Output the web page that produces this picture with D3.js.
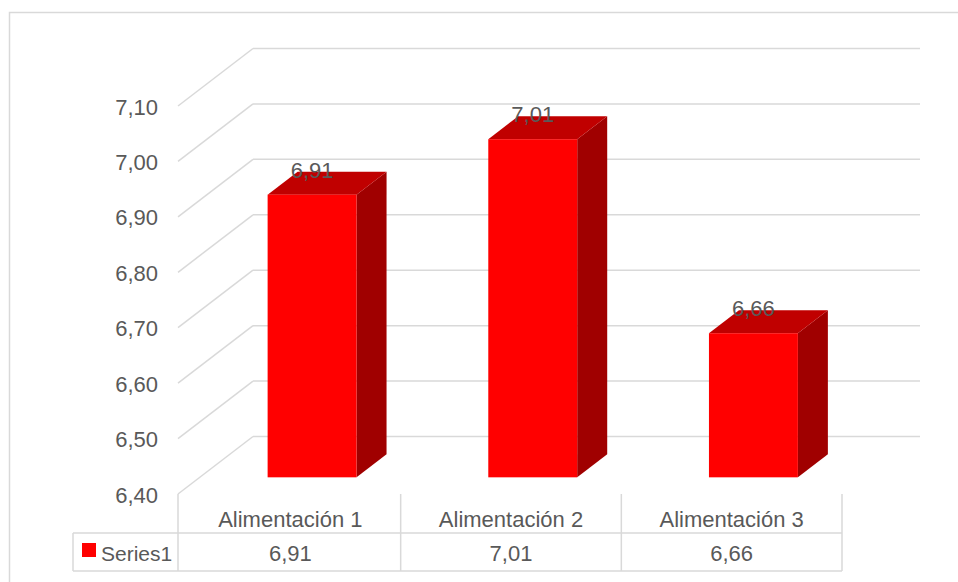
<!DOCTYPE html>
<html>
<head>
<meta charset="utf-8">
<script src="https://cdn.jsdelivr.net/npm/d3@7/dist/d3.min.js"></script>
<style>
  html, body { margin: 0; padding: 0; background: #fff; }
  svg { display: block; }
  text { font-family: "Liberation Sans", Arial, sans-serif; fill: #595959; }
</style>
</head>
<body>
<svg id="chart" width="958" height="582"></svg>
<script>
// ---- data ----
const categories = ["Alimentación 1", "Alimentación 2", "Alimentación 3"];
const seriesName = "Series1";
const values = [6.91, 7.01, 6.66];
const yTicks = [6.4, 6.5, 6.6, 6.7, 6.8, 6.9, 7.0, 7.1];

// ---- layout ----
const W = 958, H = 582;
const svg = d3.select("#chart");
const locale = d3.formatLocale({decimal: ",", thousands: ".", grouping: [3], currency: ["", "€"]});
const fmt = locale.format(".2f");

const frontLeft = 178, frontRight = 842;
const yFront = d3.scaleLinear().domain([6.4, 7.1]).range([494, 106]);
const depth = {dx: 75, dy: -57.5};
const barFront = 0.29, barBack = 0.69;
const x = d3.scaleBand().domain(categories).range([frontLeft + 2, frontRight]).padding(0);
const barW = x.bandwidth() * 0.403;

const grid = "#d9d9d9";
const fs = 22;

// outer border
svg.append("rect").attr("x", 9.5).attr("y", 12.5).attr("width", 980).attr("height", 620)
  .attr("fill", "none").attr("stroke", grid).attr("stroke-width", 1.5);

// gridlines: back wall + left wall diagonals
const gG = svg.append("g");
yTicks.forEach(t => {
  const yf = yFront(t), yb = yFront(t) + depth.dy;
  gG.append("line").attr("x1", frontLeft).attr("y1", yf).attr("x2", frontLeft + depth.dx).attr("y2", yb)
    .attr("stroke", grid).attr("stroke-width", 1.5);
  gG.append("line").attr("x1", frontLeft + depth.dx).attr("y1", yb).attr("x2", frontRight + depth.dx + 3).attr("y2", yb)
    .attr("stroke", grid).attr("stroke-width", 1.5);
});

// y axis labels
const axis = d3.axisLeft(yFront).tickValues(yTicks).tickFormat(fmt).tickSize(0).tickPadding(0);
const ax = svg.append("g").attr("transform", "translate(158,1)").call(axis);
ax.select(".domain").remove();
ax.selectAll("text").style("font-size", fs + "px").attr("fill", "#595959")
  .style("font-family", '"Liberation Sans", Arial, sans-serif');

// bars
const bars = svg.append("g");
const fdx = depth.dx * barFront, fdy = depth.dy * barFront;
const ddx = depth.dx * (barBack - barFront), ddy = depth.dy * (barBack - barFront);
categories.forEach((c, i) => {
  const v = values[i];
  const x0 = x(c) + (x.bandwidth() - barW) / 2 + fdx;
  const x1 = x0 + barW;
  const yT = yFront(v) + fdy;
  const yB = yFront(6.4) + fdy;
  // side
  bars.append("polygon").attr("points", [[x1, yT], [x1 + ddx, yT + ddy], [x1 + ddx, yB + ddy], [x1, yB]].map(p => p.join(",")).join(" "))
    .attr("fill", "#A00000");
  // top
  bars.append("polygon").attr("points", [[x0, yT], [x0 + ddx, yT + ddy], [x1 + ddx, yT + ddy], [x1, yT]].map(p => p.join(",")).join(" "))
    .attr("fill", "#C00000");
  // front
  bars.append("rect").attr("x", x0).attr("y", yT).attr("width", barW).attr("height", yB - yT)
    .attr("fill", "#FF0000");
  // label
  svg.append("text").attr("x", (x0 + x1) / 2).attr("y", yT - 17).attr("text-anchor", "middle")
    .style("font-size", fs + "px").text(fmt(v));
});

// data table
const tG = svg.append("g");
const tTop = 494, tMid = 533, tBot = 571, legLeft = 73;
const tl = (x1, y1, x2, y2) => tG.append("line").attr("x1", x1).attr("y1", y1).attr("x2", x2).attr("y2", y2)
  .attr("stroke", grid).attr("stroke-width", 1.5);
tl(legLeft, tMid, frontRight, tMid);
tl(legLeft, tBot, frontRight, tBot);
tl(legLeft, tMid, legLeft, tBot);
const cols = categories.map(c => x(c)).concat([frontRight]);
cols.forEach((cx, i) => tl(i === 0 ? frontLeft : cx, tTop, i === 0 ? frontLeft : cx, tBot));
categories.forEach((c, i) => {
  const cx = x(c) + x.bandwidth() / 2;
  tG.append("text").attr("x", cx).attr("y", 527).attr("text-anchor", "middle").style("font-size", fs + "px").text(c);
  tG.append("text").attr("x", cx).attr("y", 561).attr("text-anchor", "middle").style("font-size", fs + "px").text(fmt(values[i]));
});
tG.append("rect").attr("x", 82).attr("y", 543).attr("width", 14).attr("height", 14).attr("fill", "#FF0000");
tG.append("text").attr("x", 101).attr("y", 561).style("font-size", "21px").text(seriesName);
</script>
</body>
</html>
